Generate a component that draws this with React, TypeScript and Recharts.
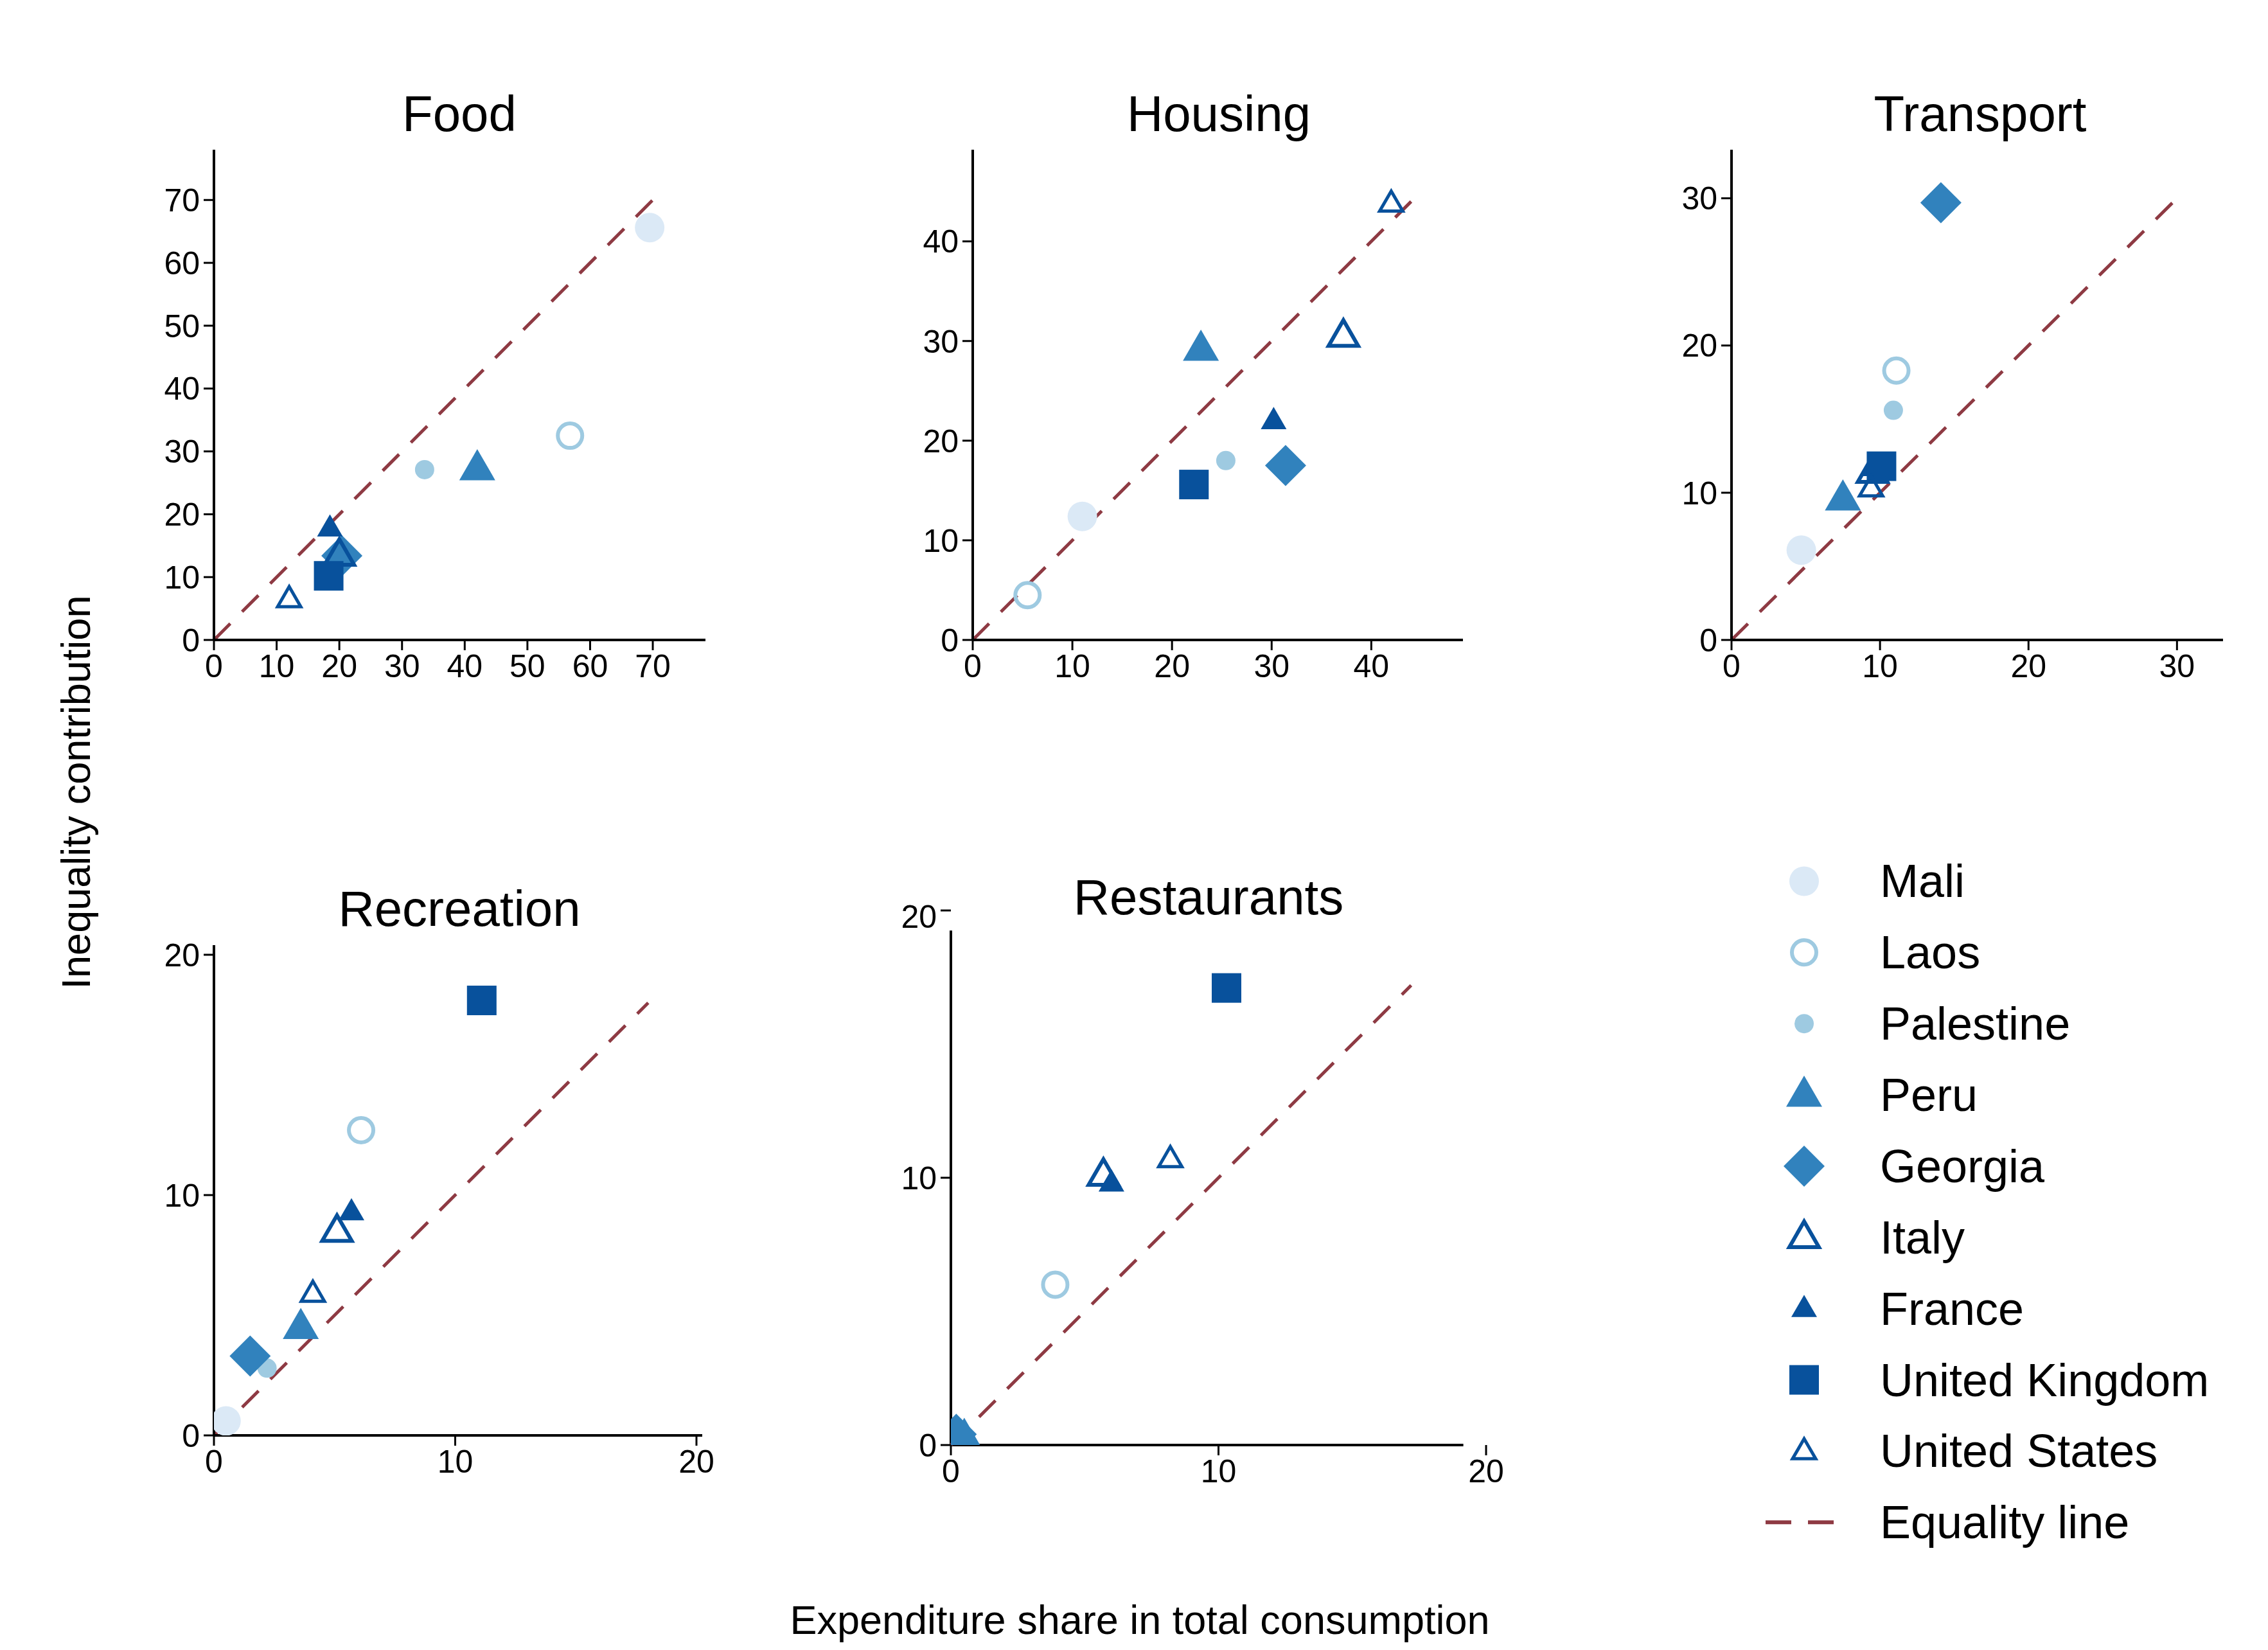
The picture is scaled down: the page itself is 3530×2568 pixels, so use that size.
import React from 'react'
import { ScatterChart, Scatter, XAxis, YAxis, ReferenceLine } from 'recharts'

const countries = ['Mali', 'Laos', 'Palestine', 'Peru', 'Georgia', 'Italy', 'France', 'United Kingdom', 'United States']

const foodShare = [69.5, 56.8, 33.6, 42, 20.4, 20, 18.5, 18.3, 12]
const foodContribution = [65.6, 32.5, 27.1, 27.3, 13.4, 13.5, 17.8, 10.2, 6.5]
const housingShare = [11, 5.5, 25.4, 22.9, 31.4, 37.2, 30.2, 22.2, 42]
const housingContribution = [12.4, 4.5, 18, 29.2, 17.5, 30.5, 22, 15.6, 43.8]
const transportShare = [4.7, 11.1, 10.9, 7.5, 14.1, 9.5, 9.7, 10.1, 9.4]
const transportContribution = [6.1, 18.3, 15.6, 9.6, 29.7, 11.4, 11.7, 11.8, 10.3]
const recreationShare = [0.5, 6.1, 2.2, 3.6, 1.5, 5.1, 5.7, 11.1, 4.1]
const recreationContribution = [0.6, 12.7, 2.8, 4.5, 3.3, 8.5, 9.3, 18.1, 5.9]
const restaurantsShare = [0.2, 3.9, 0.3, 0.5, 0.2, 5.7, 6, 10.3, 8.2]
const restaurantsContribution = [0.2, 6, 0.3, 0.3, 0.4, 10.1, 9.8, 17.1, 10.7]

const foodTicks = [0, 10, 20, 30, 40, 50, 60, 70]
const housingTicks = [0, 10, 20, 30, 40]
const transportTicks = [0, 10, 20, 30]
const smallTicks = [0, 10, 20]

const LIGHT = '#dbe9f6'
const PALE = '#9ecae1'
const MID = '#3182bd'
const DARK = '#08519c'
const EQ = '#8e3a43'

type Sh = { cx?: number; cy?: number }

function tri(cx: number, cy: number, s: number) {
  const h = s * 0.866
  return `${cx},${cy - h * 0.62} ${cx - s / 2},${cy + h * 0.38} ${cx + s / 2},${cy + h * 0.38}`
}

const shapes: ((p: Sh) => React.ReactElement)[] = [
  ({ cx = 0, cy = 0 }) => <circle cx={cx} cy={cy} r={23} fill={LIGHT} />,
  ({ cx = 0, cy = 0 }) => <circle cx={cx} cy={cy} r={19} fill="none" stroke={PALE} strokeWidth={6} />,
  ({ cx = 0, cy = 0 }) => <circle cx={cx} cy={cy} r={15} fill={PALE} />,
  ({ cx = 0, cy = 0 }) => <polygon points={tri(cx, cy, 56)} fill={MID} />,
  ({ cx = 0, cy = 0 }) => (
    <polygon points={`${cx},${cy - 32} ${cx + 32},${cy} ${cx},${cy + 32} ${cx - 32},${cy}`} fill={MID} />
  ),
  ({ cx = 0, cy = 0 }) => <polygon points={tri(cx, cy, 46)} fill="none" stroke={DARK} strokeWidth={6} />,
  ({ cx = 0, cy = 0 }) => <polygon points={tri(cx, cy, 40)} fill={DARK} />,
  ({ cx = 0, cy = 0 }) => <rect x={cx - 23} y={cy - 23} width={46} height={46} fill={DARK} />,
  ({ cx = 0, cy = 0 }) => <polygon points={tri(cx, cy, 36)} fill="none" stroke={DARK} strokeWidth={5} />,
]

const tickStyle = { fontSize: 50, fill: '#000', fontFamily: 'Liberation Sans, Arial, sans-serif' }

interface PanelProps {
  title: string
  titleX: number
  titleY: number
  left: number
  top: number
  w: number
  h: number
  xMax: number
  yMax: number
  ticks: number[]
  xs: number[]
  ys: number[]
  eq: number
  axisX?: number
  axisY?: number
}

function Panel(p: PanelProps) {
  const YW = 130
  const MT = 20
  const MR = 60
  const XH = 90
  const customAxes = p.axisX !== undefined
  return (
    <>
      <div style={{ position: 'absolute', left: p.left - YW, top: p.top - MT }}>
        <ScatterChart width={YW + p.w + MR} height={MT + p.h + XH} margin={{ top: MT, right: MR, bottom: 0, left: 0 }}>
          <XAxis
            type="number"
            dataKey="x"
            domain={[0, p.xMax]}
            ticks={p.ticks}
            allowDataOverflow
            height={XH}
            tick={tickStyle}
            tickSize={16}
            tickMargin={6}
            axisLine={customAxes ? false : { stroke: '#000', strokeWidth: 4 }}
            tickLine={{ stroke: '#000', strokeWidth: 3 }}
          />
          <YAxis
            type="number"
            dataKey="y"
            domain={[0, p.yMax]}
            ticks={p.ticks}
            allowDataOverflow
            width={YW}
            tick={tickStyle}
            tickSize={16}
            tickMargin={6}
            axisLine={customAxes ? false : { stroke: '#000', strokeWidth: 4 }}
            tickLine={{ stroke: '#000', strokeWidth: 3 }}
          />
          {customAxes && (
            <ReferenceLine segment={[{ x: 0, y: 0 }, { x: p.axisX as number, y: 0 }]} stroke="#000" strokeWidth={4} ifOverflow="visible" />
          )}
          {customAxes && (
            <ReferenceLine segment={[{ x: 0, y: 0 }, { x: 0, y: p.axisY as number }]} stroke="#000" strokeWidth={4} ifOverflow="visible" />
          )}
          <ReferenceLine
            segment={[{ x: 0, y: 0 }, { x: p.eq, y: p.eq }]}
            stroke={EQ}
            strokeWidth={5}
            strokeDasharray="36 26"
            ifOverflow="visible"
          />
          {countries.map((c, i) => (
            <Scatter key={c} name={c} data={[{ x: p.xs[i], y: p.ys[i] }]} shape={shapes[i]} isAnimationActive={false} />
          ))}
        </ScatterChart>
      </div>
      <div
        style={{
          position: 'absolute',
          left: p.titleX - 400,
          width: 800,
          top: p.titleY - 45,
          textAlign: 'center',
          fontSize: 78,
          lineHeight: '90px',
        }}
      >
        {p.title}
      </div>
    </>
  )
}

const legendRows = [606, 655, 704, 753, 802, 851, 900, 949, 998, 1047]

export default function App() {
  const k = 2.263
  return (
    <div
      style={{
        position: 'absolute',
        left: 0,
        top: 0,
        width: 3530,
        height: 2568,
        background: '#fff',
        fontFamily: 'Liberation Sans, Arial, sans-serif',
        color: '#000',
        overflow: 'hidden',
      }}
    >
      <Panel title="Food" titleX={715} titleY={177} left={333} top={233} w={765} h={763} xMax={78.4} yMax={78} ticks={foodTicks} xs={foodShare} ys={foodContribution} eq={70} />
      <Panel title="Housing" titleX={1897} titleY={177} left={1514} top={233} w={763} h={763} xMax={49.2} yMax={49.2} ticks={housingTicks} xs={housingShare} ys={housingContribution} eq={44} />
      <Panel title="Transport" titleX={3082} titleY={177} left={2695} top={233} w={765} h={763} xMax={33.1} yMax={33.3} ticks={transportTicks} xs={transportShare} ys={transportContribution} eq={30} />
      <Panel title="Recreation" titleX={715} titleY={1414} left={333} top={1471} w={760} h={763} xMax={20.24} yMax={20.4} ticks={smallTicks} xs={recreationShare} ys={recreationContribution} eq={18} />
      <Panel title="Restaurants" titleX={1881} titleY={1396} left={1480} top={1417} w={833} h={832} xMax={20} yMax={20} ticks={smallTicks} xs={restaurantsShare} ys={restaurantsContribution} eq={17.2} axisX={19.15} axisY={19.25} />

      <div
        style={{
          position: 'absolute',
          left: 118 - 700,
          top: 1233 - 40,
          width: 1400,
          textAlign: 'center',
          fontSize: 63,
          lineHeight: '80px',
          transform: 'rotate(-90deg)',
        }}
      >
        Inequality contribution
      </div>
      <div style={{ position: 'absolute', left: 1774 - 900, top: 2521 - 40, width: 1800, textAlign: 'center', fontSize: 63, lineHeight: '80px' }}>
        Expenditure share in total consumption
      </div>

      <svg style={{ position: 'absolute', left: 0, top: 0 }} width={3530} height={2568}>
        {countries.map((c, i) => (
          <g key={c}>
            {shapes[i]({ cx: 2808, cy: legendRows[i] * k })}
            <text x={2926} y={legendRows[i] * k} dominantBaseline="central" fontSize={72}>
              {c}
            </text>
          </g>
        ))}
        <line x1={2748} x2={2875} y1={legendRows[9] * k} y2={legendRows[9] * k} stroke={EQ} strokeWidth={6} strokeDasharray="40 26" />
        <text x={2926} y={legendRows[9] * k} dominantBaseline="central" fontSize={72}>
          Equality line
        </text>
      </svg>
    </div>
  )
}
